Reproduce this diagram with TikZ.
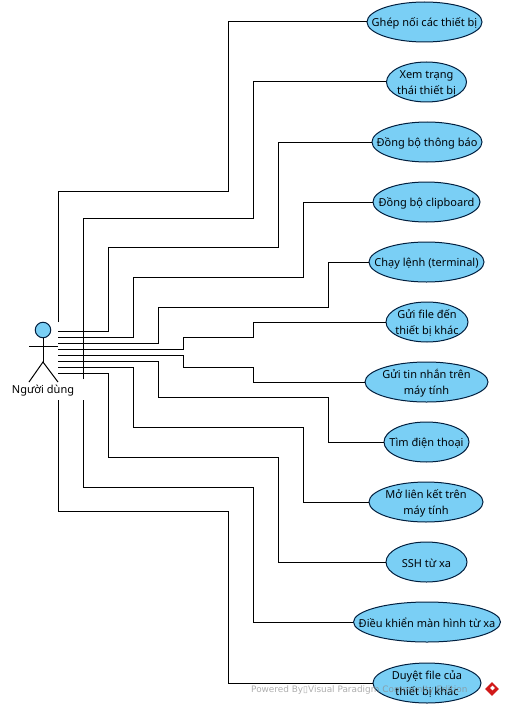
\documentclass[tikz,border=0pt]{standalone}
\usepackage{fontspec}
\setmainfont{Noto Sans}
\newfontfamily\wmfont{DejaVu Sans}
\usetikzlibrary{shapes}
\definecolor{ucfill}{RGB}{122,207,245}
\definecolor{ucline}{RGB}{1,31,63}
\begin{document}
\begin{tikzpicture}[x=1pt,y=-1pt]
 \tikzset{usecase node/.style={ellipse, draw=ucline, fill=ucfill, line width=1pt,
 		minimum height=40pt, inner sep=0pt}, }
 \tikzset{usecase text/.style={align=center, inner sep=0pt, text=black!85!ucline, yshift=-1.2pt,
 		font=\fontsize{11}{16}\selectfont}, }
 \tikzset{actor line/.style={line width=1pt, draw=black}, }
 \tikzset{linea/.style={line width=1pt, draw=black},}
 \useasboundingbox (0,0) rectangle (504,706);
 \node[circle, draw=ucline, fill=ucfill, line width=1pt, minimum size=15.5pt, inner sep=0pt] (head) at (43,330) {};
 \node[font=\fontsize{11}{13}\selectfont, inner sep=0pt] (actor) at (43,390.5) {Người dùng};
 \coordinate (hip) at (43,362);
 \coordinate (armL) at (29,346);
 \coordinate (armR) at (58,346);
 \coordinate (footL) at (29,382);
 \coordinate (footR) at (58,382);
 \draw[actor line] (head.south) -- (hip);
 \draw[actor line] (armL) -- (armR);
 \draw[actor line] (footL) -- (hip) -- (footR);
 % use cases
 \node[usecase node, minimum width=115pt] (1) at (424.5,22) [label={[usecase text]center:Ghép nối các thiết bị}] {};
 \node[usecase node, minimum width=80pt] (2) at (426.5,82) [label={[usecase text]center:Xem trạng\\thái thiết bị}] {};
 \node[usecase node, minimum width=110pt] (3) at (427,142) [label={[usecase text]center:Đồng bộ thông báo}] {};
 \node[usecase node, minimum width=107pt] (4) at (426.5,202) [label={[usecase text]center:Đồng bộ clipboard}] {};
 \node[usecase node, minimum width=115pt] (5) at (426.5,262) [label={[usecase text]center:Chạy lệnh (terminal)}] {};
 \node[usecase node, minimum width=82pt] (6) at (427,322) [label={[usecase text]center:Gửi file đến\\thiết bị khác}] {};
 \node[usecase node, minimum width=123pt] (7) at (426.5,382) [label={[usecase text]center:Gửi tin nhắn trên\\máy tính}] {};
 \node[usecase node, minimum width=85pt] (8) at (426.5,442) [label={[usecase text]center:Tìm điện thoại}] {};
 \node[usecase node, minimum width=114pt] (9) at (426,502) [label={[usecase text]center:Mở liên kết trên\\máy tính}] {};
 \node[usecase node, minimum width=81pt] (10) at (426.5,562) [label={[usecase text]center:SSH từ xa}] {};
 \node[usecase node, minimum width=147pt] (11) at (427,622) [label={[usecase text]center:Điều khiển màn hình từ xa}] {};
 \node[usecase node, minimum width=108pt] (12) at (427,683) [label={[usecase text]center:Duyệt file của\\thiết bị khác}] {};
 % free ends beside the actor
 \coordinate (s1) at (58,322);
 \coordinate (s2) at (83,379);
 \coordinate (s3) at (58,331);
 \coordinate (s4) at (58,337);
 \coordinate (s5) at (58,343);
 \coordinate (s6) at (58,349);
 \coordinate (s7) at (58,355);
 \coordinate (s8) at (58,361);
 \coordinate (s9) at (58,367);
 \coordinate (s10) at (58,373);
 \coordinate (s11) at (83,400);
 \coordinate (s12) at (58,400);
 \foreach \x /\a /\b /\c in{1/58/191/228,2/83/218/253,3/108/247/278,4/133/277/303,
 	5/158/307/328,6/183/337/253,7/183/367/253,8/158/397/328,9/133/427/303,
 	10/108/457/278,11/83/487/253,12/58/511/228}
 \draw[linea] (s\x) -| (\a,\b) -- (\c,\b) |- (\x.west);
 % 
 \node[font=\wmfont\fontsize{8.9}{10}\selectfont, text=black!45, opacity=.7, inner sep=0pt, anchor=west] (mark) at (251,690) {Powered By▯Visual Paradigm Community Edition};
 \node[diamond, fill=red!80!black!90, minimum size=14pt, inner sep=0pt] (logo) at (492,689) {};
 \node[diamond, fill=white, minimum size=5pt, inner sep=0pt] (logoin) at (492.5,688) {};
 \end{tikzpicture}
\end{document}
